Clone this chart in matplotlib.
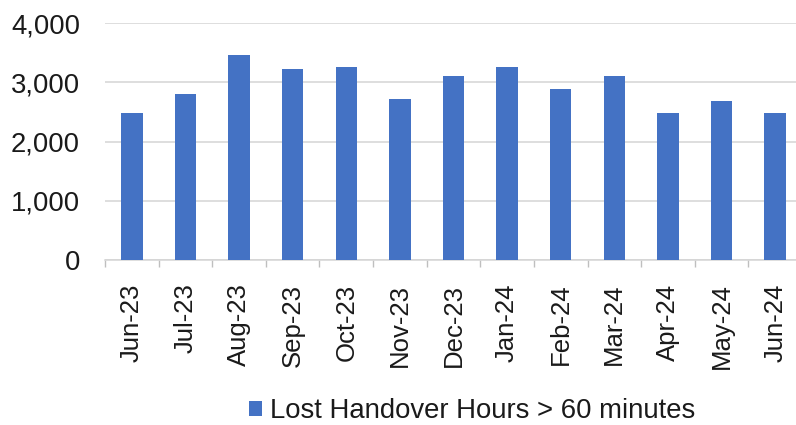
import matplotlib
matplotlib.use("Agg")
import matplotlib.pyplot as plt
import numpy as np
from matplotlib.ticker import FuncFormatter, FixedLocator

months = ["Jun-23", "Jul-23", "Aug-23", "Sep-23", "Oct-23", "Nov-23", "Dec-23",
          "Jan-24", "Feb-24", "Mar-24", "Apr-24", "May-24", "Jun-24"]
lost_hours = [2480, 2810, 3470, 3220, 3265, 2715, 3115, 3265, 2890, 3115, 2480, 2695, 2480]
series_name = "Lost Handover Hours > 60 minutes"
y_ticks = [0, 1000, 2000, 3000, 4000]

plt.rcParams['font.family'] = ['Liberation Sans', 'DejaVu Sans']
text_color = '#1a1a1a'

fig = plt.figure(figsize=(7.96, 4.25), dpi=100)
ax = fig.add_axes([105/796, (425-260)/425, (802-105)/796, (260-23.3)/425])

x = np.arange(len(months))
ax.bar(x, lost_hours, width=0.40, color='#4472C4', label=series_name, zorder=3)

ax.set_xlim(-0.5, len(months) - 0.5)
ax.set_ylim(0, 4000)
ax.set_yticks(y_ticks)
ax.yaxis.set_major_formatter(FuncFormatter(lambda v, p: f"{int(v):,}"))
ax.grid(axis='y', color='#d4d4d4', linewidth=1.1, zorder=0)
ax.tick_params(axis='y', length=0, pad=18, labelsize=19.8, labelcolor=text_color)

ax.set_xticks(x)
ax.set_xticklabels(months, rotation=90)
ax.tick_params(axis='x', which='major', length=0, pad=17, labelsize=18.5, labelcolor=text_color)
ax.xaxis.set_minor_locator(FixedLocator(np.arange(-0.5, len(months), 1.0)))
ax.tick_params(axis='x', which='minor', length=5, width=1, color='#bfbfbf', direction='out')

for s in ['top', 'right', 'left']:
    ax.spines[s].set_visible(False)
ax.spines['bottom'].set_color('#d4d4d4')
ax.spines['bottom'].set_linewidth(1.1)

handles, labels = ax.get_legend_handles_labels()
fig.legend(handles, labels, loc='center', bbox_to_anchor=(472/796, 1 - 411/425),
           frameon=False, fontsize=19.8, handlelength=0.47, handleheight=0.47,
           handletextpad=0.3, labelcolor=text_color, borderaxespad=0, borderpad=0)

fig.savefig('out.png', dpi=100)
